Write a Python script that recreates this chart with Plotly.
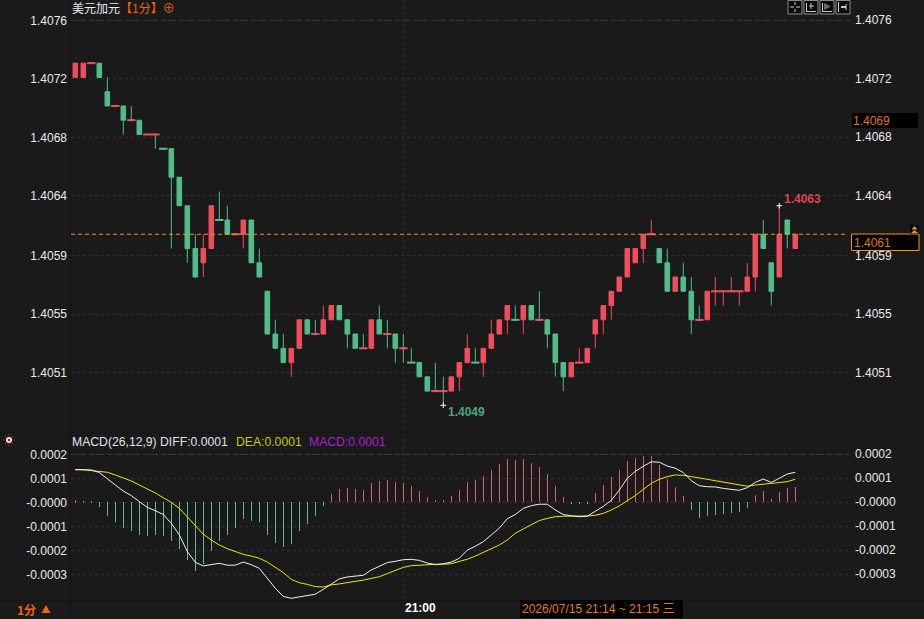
import numpy as np
import pandas as pd
import plotly.graph_objects as go

W, H = 924, 619

# One-minute candles, USD/CAD
start_time = "2026-07-15 20:19"
opens = [1.4072, 1.4072, 1.4073, 1.4073, 1.4071, 1.4070, 1.4070, 1.4069, 1.4069, 1.4068, 1.4068, 1.4067, 1.4067, 1.4065, 1.4063, 1.4060,
         1.4059, 1.4060, 1.4062, 1.4062, 1.4061, 1.4061, 1.4062, 1.4059, 1.4057, 1.4054, 1.4053, 1.4052, 1.4053, 1.4055, 1.4054, 1.4054,
         1.4055, 1.4056, 1.4055, 1.4054, 1.4053, 1.4053, 1.4055, 1.4054, 1.4054, 1.4053, 1.4052, 1.4052, 1.4051, 1.4050, 1.4050, 1.4050,
         1.4051, 1.4052, 1.4052, 1.4052, 1.4053, 1.4054, 1.4055, 1.4055, 1.4055, 1.4056, 1.4055, 1.4055, 1.4054, 1.4052, 1.4051, 1.4052,
         1.4052, 1.4054, 1.4055, 1.4056, 1.4057, 1.4058, 1.4059, 1.4060, 1.4061, 1.4060, 1.4059, 1.4057, 1.4058, 1.4057, 1.4055, 1.4055,
         1.4057, 1.4057, 1.4057, 1.4057, 1.4057, 1.4058, 1.4061, 1.4059, 1.4058, 1.4062, 1.4060]
closes = [1.4073, 1.4073, 1.4073, 1.4072, 1.4070, 1.4070, 1.4069, 1.4069, 1.4068, 1.4068, 1.4068, 1.4067, 1.4065, 1.4063, 1.4060, 1.4058,
          1.4060, 1.4063, 1.4062, 1.4061, 1.4061, 1.4062, 1.4059, 1.4058, 1.4054, 1.4053, 1.4052, 1.4053, 1.4055, 1.4054, 1.4054, 1.4055,
          1.4056, 1.4055, 1.4054, 1.4053, 1.4053, 1.4055, 1.4054, 1.4054, 1.4053, 1.4053, 1.4052, 1.4051, 1.4050, 1.4050, 1.4050, 1.4051,
          1.4052, 1.4053, 1.4052, 1.4053, 1.4054, 1.4055, 1.4056, 1.4055, 1.4056, 1.4055, 1.4055, 1.4054, 1.4052, 1.4051, 1.4052, 1.4052,
          1.4053, 1.4055, 1.4056, 1.4057, 1.4058, 1.4060, 1.4060, 1.4061, 1.4061, 1.4059, 1.4057, 1.4058, 1.4057, 1.4055, 1.4055, 1.4057,
          1.4057, 1.4057, 1.4057, 1.4057, 1.4058, 1.4061, 1.4060, 1.4057, 1.4061, 1.4061, 1.4061]
highs = [1.4073, 1.4073, 1.4073, 1.4073, 1.4072, 1.4070, 1.4070, 1.4070, 1.4069, 1.4068, 1.4068, 1.4067, 1.4067, 1.4065, 1.4063, 1.4061,
         1.4061, 1.4063, 1.4064, 1.4063, 1.4061, 1.4062, 1.4062, 1.4060, 1.4057, 1.4055, 1.4054, 1.4053, 1.4055, 1.4055, 1.4055, 1.4056,
         1.4056, 1.4056, 1.4055, 1.4054, 1.4054, 1.4055, 1.4056, 1.4055, 1.4054, 1.4054, 1.4053, 1.4052, 1.4051, 1.4052, 1.4051, 1.4051,
         1.4052, 1.4054, 1.4053, 1.4053, 1.4055, 1.4055, 1.4056, 1.4056, 1.4056, 1.4056, 1.4057, 1.4055, 1.4054, 1.4052, 1.4052, 1.4053,
         1.4053, 1.4055, 1.4056, 1.4057, 1.4058, 1.4060, 1.4060, 1.4061, 1.4062, 1.4060, 1.4060, 1.4058, 1.4059, 1.4058, 1.4056, 1.4057,
         1.4058, 1.4057, 1.4058, 1.4057, 1.4059, 1.4061, 1.4062, 1.4059, 1.4063, 1.4062, 1.4061]
lows = [1.4072, 1.4072, 1.4073, 1.4072, 1.4070, 1.4070, 1.4068, 1.4069, 1.4068, 1.4068, 1.4067, 1.4067, 1.4060, 1.4063, 1.4059, 1.4058,
        1.4058, 1.4060, 1.4062, 1.4061, 1.4061, 1.4060, 1.4059, 1.4058, 1.4054, 1.4053, 1.4052, 1.4051, 1.4053, 1.4054, 1.4054, 1.4054,
        1.4055, 1.4055, 1.4053, 1.4053, 1.4053, 1.4053, 1.4054, 1.4053, 1.4052, 1.4052, 1.4052, 1.4051, 1.4050, 1.4050, 1.4049, 1.4050,
        1.4050, 1.4052, 1.4052, 1.4051, 1.4053, 1.4054, 1.4054, 1.4055, 1.4054, 1.4055, 1.4055, 1.4053, 1.4051, 1.4050, 1.4051, 1.4052,
        1.4052, 1.4053, 1.4054, 1.4055, 1.4057, 1.4058, 1.4059, 1.4059, 1.4061, 1.4059, 1.4057, 1.4057, 1.4057, 1.4054, 1.4055, 1.4055,
        1.4056, 1.4056, 1.4057, 1.4056, 1.4057, 1.4057, 1.4060, 1.4056, 1.4058, 1.4060, 1.4060]

# Candles carrying a printed high and low caption
marked_high = 88
marked_low = 46

# MACD series, in units of 0.00001
diff_e5 = [13.6, 13.6, 13.5, 12.4, 9.6, 7.2, 4.7, 2.8, 0.3, -2.1, -3.5, -5.1, -8.75, -13.6, -20.5, -25, -26.5, -25.8, -25.4, -26.2,
           -26.2, -24.9, -26, -27.5, -31.7, -35.8, -39.2, -40, -39.4, -39, -38.3, -36.25, -34.2, -31.9, -31.1, -30.7, -30.4, -28.2, -26.7, -25.1,
           -24.6, -23.9, -23.75, -24.2, -25.3, -26, -25.6, -24.9, -23.3, -19.9, -18.3, -16.4, -13.6, -10.8, -6.8, -5.1, -2.5, -1.4, -0.8, -0.8,
           -3.2, -5.1, -5.6, -6, -5.8, -3.9, -1.7, 0.8, 5.1, 10, 12.9, 15, 16.9, 16.7, 15.1, 14.2, 12.4, 9, 6.9, 6.5,
           6.4, 5.8, 5.4, 5, 6.1, 8.3, 9.7, 8.3, 10, 11.8, 12.5]
dea_e5 = [13.6, 13.6, 13.2, 12.9, 12.5, 11.4, 10.3, 8.9, 7.2, 5.6, 3.9, 1.9, 0, -2.5, -6, -9.7, -13.3, -15.7, -17.8, -19.3,
          -20.6, -21.7, -22.4, -23.3, -24.9, -27.1, -29.3, -32.1, -33.5, -34.2, -35.1, -35.3, -34.4, -34, -33.5, -33.2, -32.4, -31.7, -31, -29.7,
          -28.3, -27.1, -26.4, -26.1, -26.1, -25.8, -25.8, -25.6, -24.6, -23.75, -22.4, -20.8, -19.2, -17.8, -15.7, -12.9, -11.1, -9.3, -7.6, -6.7,
          -6, -5.8, -5.8, -6, -5.7, -5.4, -4.6, -3.2, -1.5, 0.7, 2.8, 5.4, 7.9, 9.6, 10.7, 11.4, 11.25, 10.7, 10, 9.6,
          9, 8.5, 7.9, 7.4, 6.7, 7.2, 7.6, 7.9, 8.3, 8.6, 9.6]
hist_e5 = [0.8, 0.7, 0.3, -1.9, -5.6, -8.1, -10.6, -11.8, -13.5, -13.9, -13.75, -13.9, -16, -19.3, -23.9, -28.5, -25.7, -20.1, -16, -13.5,
           -10.6, -6.9, -7.6, -8.2, -13.5, -16.8, -18.5, -17.2, -11.8, -8.9, -5.7, -1.5, 3.5, 5.6, 6, 5.6, 5.1, 8.1, 8.9, 9.3,
           8.5, 8.1, 6.8, 4.7, 2.2, 1, 1, 2.6, 5.1, 8.5, 9.3, 11, 13.5, 16, 18.1, 17.6, 18.1, 16.4, 14.7, 11.8,
           6.8, 2.2, -0.4, -0.4, -0.4, 3.9, 7.2, 10.6, 13.5, 17.2, 18.5, 19.3, 19.3, 15.6, 9.7, 6.4, 2.6, -3.2, -6.5, -5.7,
           -5.3, -4.9, -4.4, -4, -2.4, 3.1, 4.7, 1.4, 4.3, 6, 6.4]

# Axis labels
price_ticks = [1.4076, 1.40719, 1.40678, 1.40637, 1.40595, 1.40554, 1.40513]
price_labels = ["1.4076", "1.4072", "1.4068", "1.4064", "1.4059", "1.4055", "1.4051"]
macd_ticks = [0.0002, 0.0001, 0.0, -0.0001, -0.0002, -0.0003]
macd_labels = ["0.0002", "0.0001", "-0.0000", "-0.0001", "-0.0002", "-0.0003"]
last_price = 1.4061
reference_label = "1.4069"

BG = "#1a1a1a"
RED = "#f04e5f"
GREEN = "#52bd8a"
ORANGE = "#f0932b"
TEXT = "#e8eaee"
GRID = "#303030"
FONT = "Liberation Sans, Noto Sans CJK SC"

times = pd.date_range(start_time, periods=len(opens), freq="min")
minute = pd.Timedelta(minutes=1)
x_range = [times[0] - 0.54 * minute, times[0] + 96.84 * minute]
tick_2100 = pd.Timestamp("2026-07-15 21:00")


def px(v):
    return v / W


def py(v):
    return 1 - v / H


fig = go.Figure()

fig.add_trace(go.Candlestick(
    x=times, open=opens, high=highs, low=lows, close=closes, xaxis="x", yaxis="y",
    increasing=dict(line=dict(color=RED, width=1), fillcolor=RED),
    decreasing=dict(line=dict(color=GREEN, width=1), fillcolor=GREEN),
    hoverinfo="skip", showlegend=False,
))

# Doji candles get a heavier horizontal bar
flat = [i for i in range(len(opens)) if opens[i] == closes[i]]
flat_colors = [GREEN if i in (11, 18, 42, 50, 55) else RED for i in flat]
fig.add_trace(go.Scatter(
    x=[times[i] for i in flat], y=[closes[i] for i in flat], mode="markers",
    marker=dict(symbol="line-ew", size=6, line=dict(width=2, color=flat_colors)),
    hoverinfo="skip", showlegend=False, xaxis="x", yaxis="y",
))

# White crosses on the captioned extremes
fig.add_trace(go.Scatter(
    x=[times[marked_high], times[marked_low]], y=[highs[marked_high], lows[marked_low]], mode="markers",
    marker=dict(symbol="cross-thin", size=4, line=dict(width=1, color="#ffffff")),
    hoverinfo="skip", showlegend=False, xaxis="x", yaxis="y",
))

hist = np.array(hist_e5) * 1e-5
fig.add_trace(go.Bar(
    x=times, y=hist, width=3000, xaxis="x2", yaxis="y2",
    marker=dict(color=["#df5a6c" if v >= 0 else "#62b99a" for v in hist], line=dict(width=0)),
    hoverinfo="skip", showlegend=False,
))
fig.add_trace(go.Scatter(
    x=times, y=np.array(dea_e5) * 1e-5, mode="lines", xaxis="x2", yaxis="y2",
    line=dict(color="#f0e800", width=1), hoverinfo="skip", showlegend=False,
))
fig.add_trace(go.Scatter(
    x=times, y=np.array(diff_e5) * 1e-5, mode="lines", xaxis="x2", yaxis="y2",
    line=dict(color="#f2f2f2", width=1), hoverinfo="skip", showlegend=False,
))

shapes = []
annotations = []


def text(x, y, s, color=TEXT, size=12, anchor="left", bold=False, family=FONT):
    label = f"<b>{s}</b>" if bold else s
    annotations.append(dict(
        xref="paper", yref="paper", x=px(x), y=py(y), text=label, showarrow=False,
        xanchor=anchor, yanchor="middle", font=dict(color=color, size=size, family=family),
        borderpad=0, borderwidth=0,
    ))


def rect(x0, y0, x1, y1, fill=None, line=None, width=1):
    shapes.append(dict(
        type="rect", xref="paper", yref="paper", x0=px(x0), x1=px(x1), y0=py(y0), y1=py(y1),
        fillcolor=fill or "rgba(0,0,0,0)", line=dict(color=line or "rgba(0,0,0,0)", width=width if line else 0),
    ))


def seg(x0, y0, x1, y1, color, width=1, dash=None):
    shapes.append(dict(
        type="line", xref="paper", yref="paper", x0=px(x0), x1=px(x1), y0=py(y0), y1=py(y1),
        line=dict(color=color, width=width, dash=dash or "solid"),
    ))


def triangle(cx, top, half, height, color):
    pts = [(cx - half, top + height), (cx + half, top + height), (cx, top)]
    path = "M " + " L ".join(f"{px(a):.5f} {py(b):.5f}" for a, b in pts) + " Z"
    shapes.append(dict(type="path", xref="paper", yref="paper", path=path, fillcolor=color, line=dict(width=0)))


# Panel separators
seg(70.5, 0, 70.5, H, "#141414")
seg(0, 600.5, W, 600.5, "#141414")
seg(0, 432.5, W, 432.5, "#161616")

# Dashed top rules for both panels
for yref, value in (("y", price_ticks[0]), ("y2", macd_ticks[0])):
    shapes.append(dict(type="line", xref="paper", x0=px(71), x1=px(850), yref=yref, y0=value, y1=value,
                       line=dict(color="#3a3a3a", width=1, dash="5px,4px")))

# Last-price line
shapes.append(dict(type="line", xref="paper", x0=px(71), x1=px(848), yref="y", y0=last_price, y1=last_price,
                   line=dict(color=ORANGE, width=1, dash="4px,3px")))

# Right-hand axis labels
for value, label in zip(price_ticks, price_labels):
    annotations.append(dict(xref="paper", yref="y", x=px(853), y=value, text=label, showarrow=False,
                            xanchor="left", yanchor="middle", font=dict(color=TEXT, size=12, family=FONT)))
for value, label in zip(macd_ticks, macd_labels):
    annotations.append(dict(xref="paper", yref="y2", x=px(853), y=value, text=label, showarrow=False,
                            xanchor="left", yanchor="middle", font=dict(color=TEXT, size=12, family=FONT)))

# Price tags
rect(852, 113, 918, 128, fill="#000000")
annotations.append(dict(xref="paper", yref="paper", x=px(851), y=py(120.5), text=reference_label,
                        showarrow=False, xanchor="left", yanchor="middle",
                        font=dict(color="#d9791f", size=12, family=FONT)))
rect(851.5, 234, 919, 250.5, fill="#000000", line=ORANGE)
annotations.append(dict(xref="paper", yref="paper", x=px(852), y=py(243), text=f"{last_price:.4f}",
                        showarrow=False, xanchor="left", yanchor="middle",
                        font=dict(color="#d9791f", size=12, family=FONT)))
rect(910, 225, 919, 234, fill="#000000")
triangle(914.5, 226, 3, 3.5, ORANGE)
triangle(914.5, 230, 4, 3.5, ORANGE)

# High and low captions
annotations.append(dict(xref="x", yref="y", x=times[marked_high], y=highs[marked_high],
                        text=f"<b>{highs[marked_high]:.4f}</b>", showarrow=False, xanchor="left", yanchor="middle",
                        xshift=3, yshift=7, font=dict(color="#dc4452", size=12, family=FONT)))
annotations.append(dict(xref="x", yref="y", x=times[marked_low], y=lows[marked_low],
                        text=f"<b>{lows[marked_low]:.4f}</b>", showarrow=False, xanchor="left", yanchor="middle",
                        xshift=3, yshift=-7, font=dict(color="#4aa87e", size=12, family=FONT)))

# Header and indicator legend
text(72, 8, '美元加元<span style="color:#f0640a">【1分】⊕</span>', TEXT, 12, family="Noto Sans CJK SC")
text(72, 442, "MACD(26,12,9) DIFF:0.0001", "#dfe3ea", 12.2)
text(236, 442, "DEA:0.0001", "#c9c900", 12.2)
text(309, 442, "MACD:0.0001", "#ab20d0", 12.2)

# Bottom strip
text(17, 609.5, "1分", "#f0640a", 12, family="Noto Sans CJK SC", bold=True)
triangle(46, 605, 4.5, 8, "#f0640a")
annotations.append(dict(xref="x2", yref="paper", x=tick_2100, y=py(608), text="<b>21:00</b>", showarrow=False,
                        xanchor="left", yanchor="middle", xshift=0, font=dict(color="#ffffff", size=12, family=FONT)))
rect(520, 600, 683, 618, fill="#000000")
text(521.5, 608.5, "2026/07/15 21:14 ~ 21:15 三", "#e07f1f", 12, family="Liberation Sans, Noto Sans CJK SC")

# Toolbar buttons
for x0, x1 in ((788, 802), (804, 818), (820, 834), (836, 850)):
    rect(x0, 0.5, x1, 14, fill="#0c0c0c", line="#8c8c8c")
seg(790, 7, 794, 7, "#c8c8c8")
seg(796, 7, 800, 7, "#c8c8c8")
seg(795, 2, 795, 5, "#c8c8c8")
seg(795, 9, 795, 12, "#c8c8c8")
seg(806.5, 3, 806.5, 12, "#c8c8c8")
seg(806.5, 11.5, 816, 11.5, "#c8c8c8")
seg(809, 6, 814, 6, "#c8c8c8")
seg(811, 3, 811, 9, "#c8c8c8")
seg(822.5, 3, 822.5, 12, "#c8c8c8")
seg(822.5, 11.5, 832, 11.5, "#c8c8c8")
seg(825, 3.5, 825, 9.5, "#c8c8c8")
seg(827, 4.5, 827, 8.5, "#c8c8c8")
seg(829, 5.5, 829, 7.5, "#c8c8c8")
seg(838.5, 2, 838.5, 12, "#c8c8c8")
seg(841, 7, 846, 7, "#c8c8c8", 2)
seg(846, 4, 846, 10, "#c8c8c8")

# Status marker beside the indicator name
for dx, dy in ((-6, 0), (6, 0), (0, -6), (0, 6), (-4, -4), (4, -4), (-4, 4), (4, 4)):
    seg(9 + dx * 0.72, 440 + dy * 0.72, 9 + dx, 440 + dy, "#d01818")
shapes.append(dict(type="circle", xref="paper", yref="paper", x0=px(6), x1=px(12), y0=py(443), y1=py(437),
                   fillcolor="#ffffff", line=dict(width=0)))
shapes.append(dict(type="circle", xref="paper", yref="paper", x0=px(7.5), x1=px(10.5), y0=py(441.5), y1=py(438.5),
                   fillcolor="#e01010", line=dict(width=0)))

axis_common = dict(showline=False, zeroline=False, fixedrange=True)
x_common = dict(type="date", range=x_range, domain=[px(71), px(850)], tickvals=[tick_2100], showticklabels=False,
                ticks="", showgrid=True, gridcolor=GRID, griddash="dot", gridwidth=1,
                rangeslider=dict(visible=False), **axis_common)
y_common = dict(ticks="", showgrid=True, gridcolor=GRID, griddash="dot", gridwidth=1, ticklabelstandoff=3,
                tickfont=dict(color=TEXT, size=12, family=FONT), **axis_common)

fig.update_layout(
    width=W, height=H, margin=dict(l=0, r=0, t=0, b=0),
    autosize=False,
    paper_bgcolor=BG, plot_bgcolor=BG, showlegend=False, hovermode=False, dragmode=False,
    boxgap=0.18, bargap=0,
    xaxis=dict(anchor="y", **x_common),
    xaxis2=dict(anchor="y2", matches="x", **x_common),
    yaxis=dict(anchor="x", domain=[py(440), py(0)], range=[1.404657, 1.407743],
               tickvals=price_ticks, ticktext=price_labels, **y_common),
    yaxis2=dict(anchor="x2", domain=[py(600), py(440)], range=[-4.07e-4, 2.596e-4],
                tickvals=macd_ticks, ticktext=macd_labels, **y_common),
    shapes=shapes, annotations=annotations,
)

fig.write_html("out.html", config=dict(displayModeBar=False))
